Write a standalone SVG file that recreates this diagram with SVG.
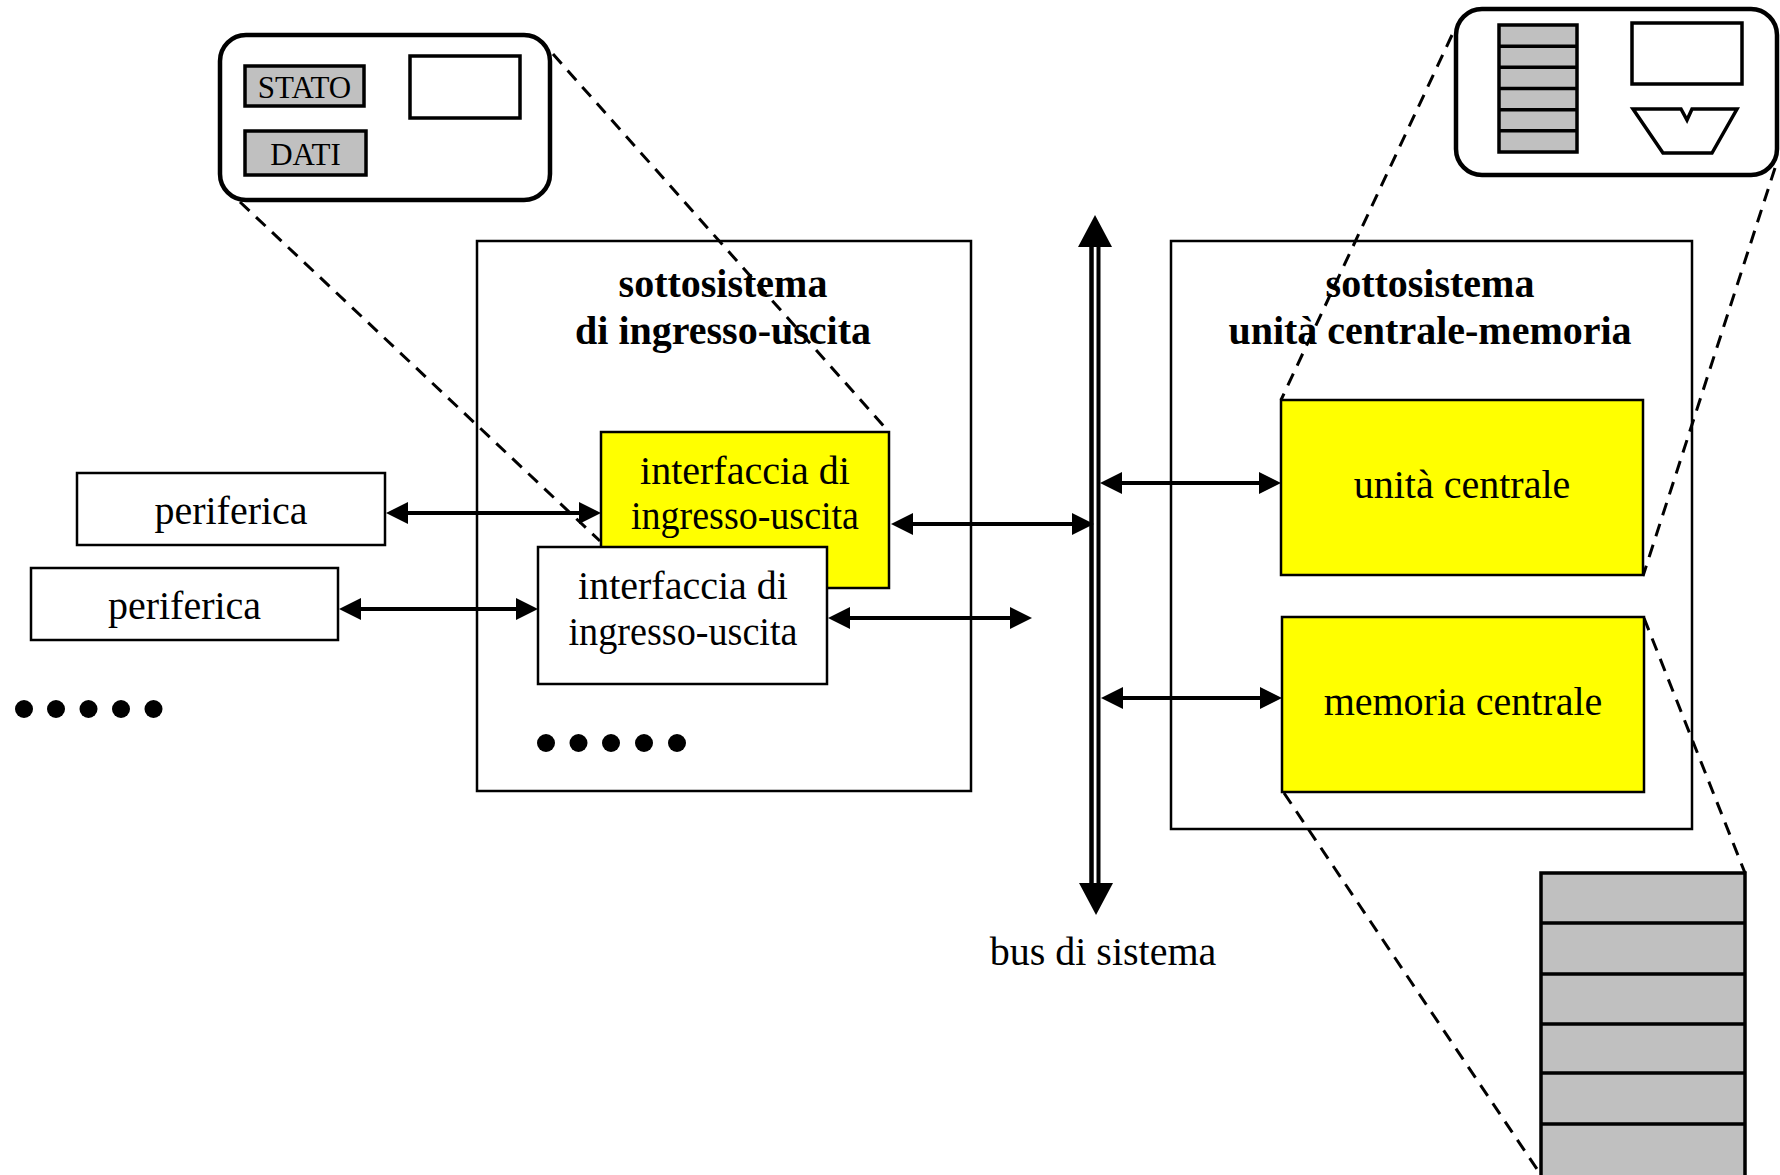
<svg xmlns="http://www.w3.org/2000/svg" width="1780" height="1175" viewBox="0 0 1780 1175">
  <style>
    .box { fill: #ffffff; stroke: #000000; stroke-width: 2.5; }
    .yel { fill: #ffff00; stroke: #000000; stroke-width: 2.5; }
    .reg { fill: #c0c0c0; stroke: #000000; stroke-width: 3.5; }
    .thick { fill: none; stroke: #000000; stroke-width: 4.5; }
    .plain { fill: #ffffff; stroke: #000000; stroke-width: 3.5; }
    .lbl { font-family: "Liberation Serif", "Times New Roman", serif; font-size: 40px; fill: #000000; text-anchor: middle; }
    .ttl { font-family: "Liberation Serif", "Times New Roman", serif; font-size: 40px; font-weight: bold; fill: #000000; text-anchor: middle; }
    .sm { font-family: "Liberation Serif", "Times New Roman", serif; font-size: 31px; fill: #000000; text-anchor: middle; }
    .zoom { fill: none; stroke: #000000; stroke-width: 3; stroke-dasharray: 13 9; }
    .link { fill: none; stroke: #000000; stroke-width: 4; marker-start: url(#head); marker-end: url(#head); }
    .dot { fill: #000000; }
  </style>
  <defs>
    <marker id="head" viewBox="0 0 22 22" refX="2" refY="11" markerWidth="22" markerHeight="22" markerUnits="userSpaceOnUse" orient="auto-start-reverse">
      <path d="M0,0 L22,11 L0,22 z" fill="#000000"/>
    </marker>
  </defs>

  <!-- subsystem frames -->
  <g id="io-subsystem">
    <rect class="box" x="477" y="241" width="494" height="550"/>
    <text class="ttl" x="723" y="297">sottosistema</text>
    <text class="ttl" x="723" y="344">di ingresso-uscita</text>
  </g>
  <g id="cpu-subsystem">
    <rect class="box" x="1171" y="241" width="521" height="588"/>
    <text class="ttl" x="1430" y="297">sottosistema</text>
    <text class="ttl" x="1430" y="344">unità centrale-memoria</text>
  </g>

  <!-- detail callouts -->
  <g id="io-detail">
    <rect class="thick" x="220" y="35" width="330" height="165" rx="26" ry="26"/>
    <rect class="reg" x="245" y="66" width="119" height="40"/>
    <text class="sm" x="304.5" y="98">STATO</text>
    <rect class="reg" x="245" y="131" width="121" height="44"/>
    <text class="sm" x="305.5" y="165">DATI</text>
    <rect class="plain" x="410" y="56" width="110" height="62"/>
  </g>
  <g id="cpu-detail">
    <rect class="thick" x="1456" y="9" width="321" height="166" rx="26" ry="26"/>
    <rect class="reg" x="1499" y="25" width="78" height="127"/>
    <path d="M1499,46.2 H1577 M1499,67.3 H1577 M1499,88.5 H1577 M1499,109.7 H1577 M1499,130.8 H1577" stroke="#000000" stroke-width="3.5"/>
    <rect class="plain" x="1632" y="23" width="110" height="61"/>
    <polygon class="plain" points="1633,109 1681,109 1687,120 1692,109 1737,109 1712,153 1663,153"/>
  </g>
  <g id="memory-detail">
    <rect class="reg" x="1541" y="873" width="204" height="320" stroke-width="4"/>
    <path d="M1541,923 H1745 M1541,974 H1745 M1541,1024 H1745 M1541,1073 H1745 M1541,1124 H1745" stroke="#000000" stroke-width="3.5"/>
  </g>

  <!-- dashed magnification lines -->
  <g id="zoom-lines">
    <line class="zoom" x1="240" y1="202" x2="600" y2="541"/>
    <line class="zoom" x1="553" y1="54" x2="889" y2="432"/>
    <line class="zoom" x1="1452" y1="35" x2="1281" y2="400"/>
    <line class="zoom" x1="1775" y1="168" x2="1643" y2="576"/>
    <line class="zoom" x1="1644" y1="618" x2="1745" y2="873"/>
    <line class="zoom" x1="1284" y1="793" x2="1541" y2="1175"/>
  </g>

  <!-- nodes -->
  <g id="periferica-1">
    <rect class="box" x="77" y="473" width="308" height="72"/>
    <text class="lbl" x="231" y="524">periferica</text>
  </g>
  <g id="periferica-2">
    <rect class="box" x="31" y="568" width="307" height="72"/>
    <text class="lbl" x="184.5" y="619">periferica</text>
  </g>
  <g id="interfaccia-1">
    <rect class="yel" x="601" y="432" width="288" height="156"/>
    <text class="lbl" x="745" y="484">interfaccia di</text>
    <text class="lbl" x="745" y="529" textLength="228" lengthAdjust="spacingAndGlyphs">ingresso-uscita</text>
  </g>
  <g id="interfaccia-2">
    <rect class="box" x="538" y="547" width="289" height="137"/>
    <text class="lbl" x="683" y="599">interfaccia di</text>
    <text class="lbl" x="683" y="645" textLength="229" lengthAdjust="spacingAndGlyphs">ingresso-uscita</text>
  </g>
  <g id="unita-centrale">
    <rect class="yel" x="1281" y="400" width="362" height="175"/>
    <text class="lbl" x="1462" y="498">unità centrale</text>
  </g>
  <g id="memoria-centrale">
    <rect class="yel" x="1282" y="617" width="362" height="175"/>
    <text class="lbl" x="1463" y="715">memoria centrale</text>
  </g>
  <g id="ellipsis-outer">
    <circle class="dot" cx="24" cy="709" r="9"/>
    <circle class="dot" cx="56" cy="709" r="9"/>
    <circle class="dot" cx="88.5" cy="709" r="9"/>
    <circle class="dot" cx="121" cy="709" r="9"/>
    <circle class="dot" cx="153.5" cy="709" r="9"/>
  </g>
  <g id="ellipsis-inner">
    <circle class="dot" cx="546" cy="743" r="9"/>
    <circle class="dot" cx="578.5" cy="743" r="9"/>
    <circle class="dot" cx="611" cy="743" r="9"/>
    <circle class="dot" cx="644" cy="743" r="9"/>
    <circle class="dot" cx="677" cy="743" r="9"/>
  </g>

  <!-- system bus -->
  <g id="bus">
    <line x1="1091.5" y1="245" x2="1091.5" y2="885" stroke="#000000" stroke-width="4.5"/>
    <line x1="1098.5" y1="245" x2="1098.5" y2="885" stroke="#000000" stroke-width="4"/>
    <polygon points="1095,215 1112,247 1078,247" fill="#000000"/>
    <polygon points="1096,915 1113,883 1079,883" fill="#000000"/>
    <text class="lbl" x="1103" y="965">bus di sistema</text>
  </g>

  <!-- connectors -->
  <g id="connectors">
    <line class="link" x1="406" y1="513" x2="581" y2="513"/>
    <line class="link" x1="359" y1="609" x2="518" y2="609"/>
    <line class="link" x1="911" y1="524" x2="1074" y2="524"/>
    <line class="link" x1="848" y1="618" x2="1012" y2="618"/>
    <line class="link" x1="1120" y1="483" x2="1261" y2="483"/>
    <line class="link" x1="1121" y1="698" x2="1262" y2="698"/>
  </g>
</svg>
